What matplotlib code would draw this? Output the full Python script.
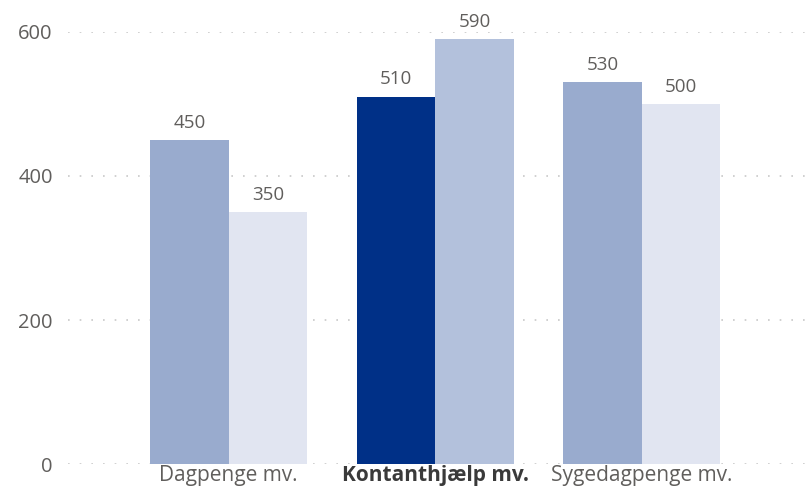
import matplotlib.pyplot as plt
import numpy as np

# ============================================================
# Data
# ============================================================

categories = ["Dagpenge mv.", "Kontanthjælp mv.", "Sygedagpenge mv."]
values_a = [450, 510, 530]
values_b = [350, 590, 500]
colors_a = ["#99abce", "#003087", "#99abce"]
colors_b = ["#e1e5f1", "#b3c1dc", "#e1e5f1"]
highlight = "Kontanthjælp mv."

# ============================================================
# Plot settings
# ============================================================

plt.rcParams["font.family"] = ["Open Sans", "DejaVu Sans"]
text_color = "#605e5c"

fig = plt.figure(figsize=(8.07, 4.96), dpi=100)
ax = fig.add_axes([68 / 807, 32 / 496, 1 - 68 / 807, 432 / 496])

x = np.arange(len(categories))
width = 0.38

bars_a = ax.bar(x - width / 2, values_a, width, color=colors_a, zorder=2)
bars_b = ax.bar(x + width / 2, values_b, width, color=colors_b, zorder=2)

for bars in (bars_a, bars_b):
    ax.bar_label(bars, padding=6, fontsize=13.5, color=text_color)

ax.set_xlim(-0.778, 2.8)
ax.set_ylim(0, 600)
ax.set_yticks([0, 200, 400, 600])

ax.set_xticks(x)
ax.set_xticklabels(categories, fontsize=15, color=text_color)
for lbl in ax.get_xticklabels():
    if lbl.get_text() == highlight:
        lbl.set_fontweight("bold")
        lbl.set_color("#3a3a3a")

ax.tick_params(axis="y", labelsize=14.5, labelcolor=text_color, length=0, pad=11)
ax.tick_params(axis="x", length=0, pad=1)

ax.grid(axis="y", color="#c8c8c8", linestyle=(0, (1, 6)), linewidth=1.2, zorder=0)
ax.set_axisbelow(True)

for s in ax.spines.values():
    s.set_visible(False)

fig.savefig("out.png", dpi=100)
